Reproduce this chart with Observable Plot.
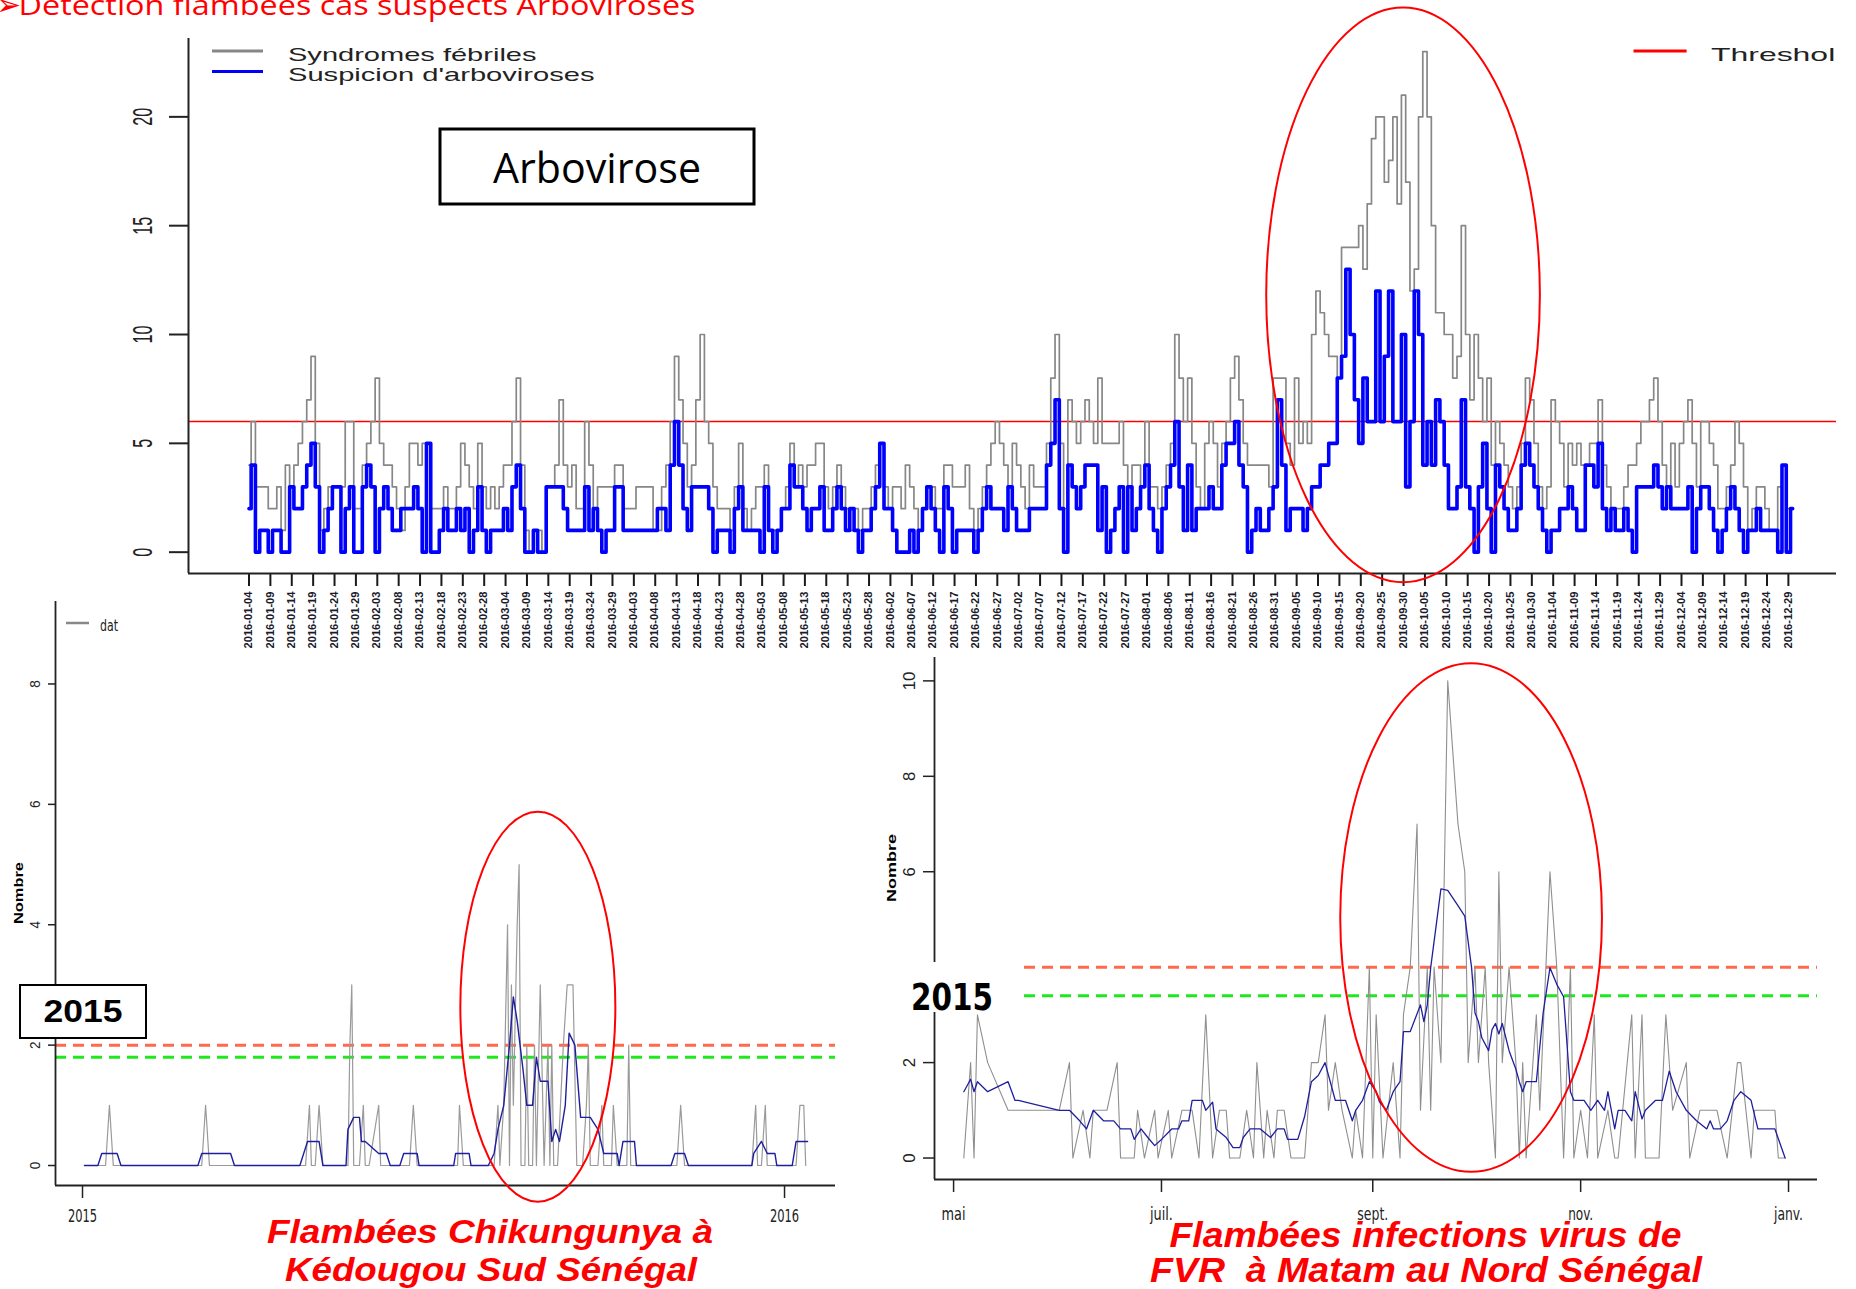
<!DOCTYPE html>
<html>
<head>
<meta charset="utf-8">
<script src="https://cdn.jsdelivr.net/npm/d3@7"></script>
<script src="https://cdn.jsdelivr.net/npm/@observablehq/plot@0.6"></script>
<style>
  html, body { margin: 0; padding: 0; background: #fff; }
  #root { position: relative; width: 1856px; height: 1289px; overflow: hidden; background: #fff;
          font-family: "Liberation Sans", Arial, sans-serif; }
  #root > svg { position: absolute; }
  #root text { white-space: pre; }
</style>
</head>
<body>
<div id="root"></div>
<script>
// ---------------- DATA ----------------
// Top chart: daily counts, 2016 (first day below)
const arboStart = "2016-01-04";
const febriles = [
  4,6,3,3,3,2,2,3,1,4, 3,4,5,6,7,9,5,1,2,3, 3,3,3,6,6,2,2,4,5,6, 8,5,4,4,3,2,1,3,5,5,
  4,5,5,2,2,2,3,2,2,3, 5,4,3,2,5,3,2,3,2,3, 4,4,6,8,4,1,0,1,1,0, 3,3,4,7,4,3,4,2,2,6,
  4,2,3,3,3,3,4,4,2,2, 2,3,3,3,3,1,1,3,4,6, 9,7,5,3,4,7,10,6,5,3, 2,2,2,1,3,5,2,1,2,3,
  3,4,1,1,1,2,3,5,3,4, 3,4,4,5,5,3,2,3,4,3, 2,1,2,1,2,2,3,4,5,3, 2,3,3,2,4,3,2,1,2,3,
  3,2,2,4,4,3,3,3,4,2, 1,2,3,4,5,6,5,4,3,5, 4,3,2,4,3,3,3,5,8,10, 5,2,7,6,5,6,7,6,5,8,
  5,5,5,5,6,4,3,4,4,3, 6,3,3,2,3,4,5,10,8,6, 8,5,3,2,5,6,5,3,5,6, 8,9,7,5,4,4,4,4,4,3,
  8,8,8,5,4,8,5,6,5,10, 12,11,10,9,9,8,14,14,14,14, 15,13,16,19,20,20,17,18,20,16,
  21,17,12,13,20,23,20,15,11,11, 10,10,8,9,15,10,7,10,8,6, 8,4,6,5,4,3,2,3,5,8,
  7,5,3,2,3,7,6,5,3,5, 4,5,4,4,5,5,7,4,3,2, 2,2,3,4,4,5,6,6,7,8, 6,4,3,5,3,5,6,7,5,3,
  6,6,5,4,2,2,3,4,6,5, 3,1,2,3,3,2,1,1,3,4, 2,2
];
const suspicion = [
  2,4,0,1,1,0,1,1,0,0, 3,2,2,3,4,5,3,0,1,2, 3,3,0,2,3,0,0,3,4,3, 0,2,3,2,1,1,2,2,2,3,
  2,0,5,0,0,1,2,1,1,2, 1,2,0,1,3,1,0,1,1,1, 2,1,3,4,2,0,0,1,0,0, 3,3,3,3,2,1,1,1,1,3,
  1,2,1,0,1,1,3,3,1,1, 1,1,1,1,1,1,2,2,1,4, 6,4,2,1,3,3,3,3,2,0, 1,1,1,0,2,3,1,1,1,1,
  0,3,1,0,1,2,2,4,3,3, 2,1,2,2,3,1,1,2,3,2, 1,2,1,0,1,1,2,3,5,2, 2,1,0,0,0,1,0,1,2,3,
  2,1,0,3,2,0,1,1,1,1, 0,1,2,3,2,2,2,1,3,2, 1,1,1,2,2,2,2,4,5,7, 2,0,4,3,2,3,4,4,4,1,
  3,0,1,2,3,0,3,1,2,3, 4,2,1,0,2,3,4,6,3,1, 4,1,2,2,2,3,2,2,4,5, 5,6,4,3,0,1,2,1,1,2,
  3,7,4,1,2,2,2,1,2,3, 3,4,4,5,5,8,9,13,10,7, 5,8,6,6,12,6,9,12,6,6,
  10,3,6,12,10,4,6,4,7,6, 4,2,2,3,7,3,2,0,3,5, 2,0,4,3,2,1,1,2,4,5,
  4,3,2,1,0,1,1,2,2,3, 2,1,1,4,4,3,5,2,1,2, 1,1,2,1,0,3,3,3,3,4, 3,2,3,2,2,2,2,3,0,2,
  3,3,2,1,0,1,2,3,2,1, 0,1,1,2,1,1,1,1,0,4, 0,2
];
const arboTickFirst = "2016-01-04";
const arboTickLast = "2016-12-29";
const arboTickStepDays = 5;
const arboYTicks = [0, 5, 10, 15, 20];
const arboThreshold = 6;
const arboLegend = ["Syndromes fébriles", "Suspicion d'arboviroses"];
const thresholdLabel = "Threshold";
const arboTitle = "Arbovirose";
const slideTitle = "Détection flambées cas suspects Arboviroses";

// Bottom-left: Chikungunya, Kédougou 2015
const chikDates = ["2015-01-02","2015-01-13","2015-01-15","2015-01-17","2015-03-04","2015-03-06","2015-03-08",
  "2015-04-27","2015-04-29","2015-04-30","2015-05-02","2015-05-04","2015-05-06","2015-05-19","2015-05-20",
  "2015-05-21","2015-05-22","2015-05-25","2015-05-27","2015-05-28","2015-05-30","2015-06-04","2015-06-05",
  "2015-06-20","2015-06-22","2015-06-24","2015-07-15","2015-07-16","2015-07-18","2015-08-03","2015-08-05",
  "2015-08-06","2015-08-08","2015-08-10","2015-08-11","2015-08-12","2015-08-13","2015-08-15","2015-08-16",
  "2015-08-17","2015-08-19","2015-08-20","2015-08-21","2015-08-23","2015-08-24","2015-08-25","2015-08-27",
  "2015-08-29","2015-08-31","2015-09-01","2015-09-02","2015-09-03","2015-09-05","2015-09-08","2015-09-10",
  "2015-09-13","2015-09-15","2015-09-18","2015-09-20","2015-09-21","2015-09-22","2015-09-26","2015-09-28",
  "2015-09-29","2015-10-03","2015-10-04","2015-10-06","2015-10-11","2015-10-12","2015-10-13","2015-11-06",
  "2015-11-08","2015-11-10","2015-12-15","2015-12-17","2015-12-18","2015-12-20","2015-12-22","2015-12-23",
  "2016-01-07","2016-01-09","2016-01-11","2016-01-12"];
const chikCounts = [0,0,1,0,0,1,0, 0,1,0,0,1,0,0,2, 3,0,0,1,0,0,1,0, 0,1,0,0,1,0,0,1,
  0,1,4,0,3,1,4,5, 0,0,2,0,0,2,0,3, 0,2,0,2,0,0,2,3, 3,0,0,1,2,0,0,1,
  0,0,1,0,0,2,0,0, 1,0,0,1,0,0,1,0, 0,1,1,0];
const chikAvgDates = ["2015-01-02","2015-01-09","2015-01-11","2015-01-19","2015-01-21","2015-03-02","2015-03-04",
  "2015-03-19","2015-03-21","2015-04-24","2015-04-26","2015-04-28","2015-05-04","2015-05-06","2015-05-18",
  "2015-05-19","2015-05-22","2015-05-25","2015-05-26","2015-05-28","2015-06-04","2015-06-08","2015-06-10",
  "2015-06-15","2015-06-17","2015-06-24","2015-06-25","2015-07-13","2015-07-14","2015-07-21","2015-07-22",
  "2015-07-31","2015-08-03","2015-08-05","2015-08-08","2015-08-11","2015-08-13","2015-08-15","2015-08-18",
  "2015-08-20","2015-08-23","2015-08-25","2015-08-27","2015-08-31","2015-09-02","2015-09-04","2015-09-06",
  "2015-09-09","2015-09-11","2015-09-14","2015-09-17","2015-09-22","2015-09-26","2015-09-29","2015-10-06",
  "2015-10-07","2015-10-09","2015-10-15","2015-10-16","2015-11-03","2015-11-05","2015-11-10","2015-11-12",
  "2015-12-15","2015-12-16","2015-12-20","2015-12-23","2015-12-27","2015-12-28","2016-01-05","2016-01-07",
  "2016-01-13"];
const chikAvg = [0,0,0.2,0.2,0,0,0.2, 0.2,0,0,0.2,0.4,0.4,0,0, 0.6,0.8,0.8,0.4,0.4,0.2,0.2,0,
  0,0.2,0.2,0,0,0.2,0.2,0, 0,0.2,0.6,1,2,2.8,2.4,1.6, 1,1,1.8,1.4,1.4,0.4,0.6,0.4,
  1,2.2,2,0.8,0.8,0.6,0.2,0.2, 0,0.4,0.4,0,0,0.2,0.2,0, 0,0.2,0.4,0.2,0.2,0,0,0.4, 0.4];
const chikThresholds = [2, 1.8];
const chikXTicks = ["2015-01-01", "2016-01-01"];
const chikYTicks = [0, 2, 4, 6, 8];
const chikTitle = ["Flambées Chikungunya à", "Kédougou Sud Sénégal"];

// Bottom-right: FVR, Matam 2015
const fvrDates = ["2015-05-04","2015-05-06","2015-05-07","2015-05-08","2015-05-11","2015-05-17","2015-06-01",
  "2015-06-04","2015-06-05","2015-06-08","2015-06-10","2015-06-11","2015-06-15","2015-06-18","2015-06-19",
  "2015-06-23","2015-06-24","2015-06-26","2015-06-29","2015-06-30","2015-07-03","2015-07-04","2015-07-07",
  "2015-07-10","2015-07-12","2015-07-14","2015-07-16","2015-07-18","2015-07-20","2015-07-21","2015-07-24",
  "2015-07-26","2015-07-28","2015-07-29","2015-07-31","2015-08-01","2015-08-03","2015-08-04","2015-08-06",
  "2015-08-08","2015-08-12","2015-08-14","2015-08-16","2015-08-18","2015-08-19","2015-08-21","2015-08-23",
  "2015-08-26","2015-08-27","2015-08-29","2015-08-31","2015-09-01","2015-09-02","2015-09-04","2015-09-07",
  "2015-09-09","2015-09-10","2015-09-12","2015-09-14","2015-09-15","2015-09-17","2015-09-18","2015-09-19",
  "2015-09-21","2015-09-23","2015-09-26","2015-09-28","2015-09-29","2015-10-01","2015-10-02","2015-10-04",
  "2015-10-05","2015-10-07","2015-10-08","2015-10-09","2015-10-11","2015-10-13","2015-10-14","2015-10-15",
  "2015-10-16","2015-10-19","2015-10-20","2015-10-23","2015-10-25","2015-10-27","2015-10-29","2015-10-30",
  "2015-11-01","2015-11-03","2015-11-05","2015-11-06","2015-11-09","2015-11-11","2015-11-12","2015-11-16",
  "2015-11-17","2015-11-19","2015-11-20","2015-11-24","2015-11-26","2015-11-28","2015-12-02","2015-12-03",
  "2015-12-06","2015-12-09","2015-12-11","2015-12-14","2015-12-17","2015-12-18","2015-12-21","2015-12-22",
  "2015-12-28","2015-12-29","2015-12-31"];
const fvrCounts = [0,2,0,3,2,1,1, 2,0,1,0,1,1,2,0, 0,1,0,1,0,1,0,1, 1,0,3,0,1,1,0,0,
  1,0,2,0,1,0,1,1, 0,0,2,2,3,1,2,1, 0,1,0,4,0,3,0,2, 0,3,4,7,1,4,1,4,
  2,10,7,6,2,4,2,4, 2,0,6,2,4,2,0,2, 0,3,1,6,4,0,4,0, 1,0,3,0,1,0,0,3,
  0,3,0,0,3,1,2,0, 1,1,1,0,2,2,0,1, 1,0,0];
const fvrAvgDates = ["2015-05-04","2015-05-06","2015-05-07","2015-05-08","2015-05-11","2015-05-17","2015-05-19",
  "2015-05-20","2015-06-01","2015-06-04","2015-06-07","2015-06-09","2015-06-11","2015-06-14","2015-06-17",
  "2015-06-19","2015-06-22","2015-06-23","2015-06-25","2015-06-27","2015-06-29","2015-07-01","2015-07-04",
  "2015-07-06","2015-07-07","2015-07-09","2015-07-10","2015-07-13","2015-07-14","2015-07-16","2015-07-17",
  "2015-07-20","2015-07-22","2015-07-24","2015-07-25","2015-07-27","2015-07-30","2015-08-02","2015-08-04",
  "2015-08-06","2015-08-07","2015-08-10","2015-08-12","2015-08-14","2015-08-16","2015-08-18","2015-08-21",
  "2015-08-24","2015-08-26","2015-08-27","2015-08-29","2015-08-31","2015-09-02","2015-09-03","2015-09-05",
  "2015-09-07","2015-09-09","2015-09-10","2015-09-12","2015-09-15","2015-09-16","2015-09-17","2015-09-18",
  "2015-09-21","2015-09-23","2015-09-26","2015-09-28","2015-09-30","2015-10-01","2015-10-02","2015-10-03",
  "2015-10-05","2015-10-06","2015-10-07","2015-10-08","2015-10-09","2015-10-11","2015-10-13","2015-10-14",
  "2015-10-15","2015-10-16","2015-10-19","2015-10-21","2015-10-23","2015-10-25","2015-10-27","2015-10-29",
  "2015-10-30","2015-11-02","2015-11-04","2015-11-06","2015-11-08","2015-11-09","2015-11-11","2015-11-12",
  "2015-11-14","2015-11-16","2015-11-17","2015-11-19","2015-11-20","2015-11-23","2015-11-25","2015-11-27",
  "2015-11-29","2015-12-02","2015-12-05","2015-12-08","2015-12-09","2015-12-10","2015-12-12","2015-12-14",
  "2015-12-16","2015-12-18","2015-12-21","2015-12-23","2015-12-28","2015-12-31"];
const fvrAvg = [1.39,1.65,1.39,1.6,1.39,1.6,1.21, 1.21,1.0,1.0,0.78,0.61,1.0,0.78,0.78,
  0.61,0.61,0.39,0.61,0.43,0.26,0.39,0.61, 0.61,0.78,0.78,1.21,1.21,1.0,1.17,0.61,
  0.43,0.22,0.22,0.43,0.61,0.61,0.43,0.61, 0.61,0.39,0.39,0.87,1.6,1.73,2.0,1.21,
  1.21,0.78,1.0,1.21,1.6,1.39,1.17,1.0, 1.39,1.6,2.65,2.65,3.21,2.86,3.21,3.99,
  5.64,5.61,5.29,5.07,3.99,3.04,2.86,2.52, 2.25,2.69,2.82,2.6,2.82,2.25,1.86,1.6,
  1.39,1.6,1.6,3.04,3.99,3.64,3.38,1.39, 1.21,1.21,1.0,1.21,1.0,1.39,0.61,1.0,
  1.0,0.78,1.39,0.82,1.0,1.21,1.21,1.82, 1.39,1.0,0.78,0.61,0.78,0.61,0.61,0.78,
  1.21,1.39,1.21,0.61,0.61,0];
const fvrThresholds = [4, 3.4];
const fvrXTicks = ["2015-05-01", "2015-07-01", "2015-09-01", "2015-11-01", "2016-01-01"];
const fvrXLabels = ["mai", "juil.", "sept.", "nov.", "janv."];
const fvrYTicks = [0, 2, 4, 6, 8, 10];
const fvrTitle = ["Flambées infections virus de", "FVR  à Matam au Nord Sénégal"];

const yearLabel = "2015";
const yLabel = "Nombre";
const chikLegend = "dat";

// Outbreak ellipses (centre date, centre value, half-width in days, half-height in counts)
const arboOutbreak = {center: "2016-09-30", value: 11.8, halfDays: 32, halfValue: 13.2};
const chikOutbreak = {center: "2015-08-26", value: 2.63, halfDays: 40.3, halfValue: 3.24};
const fvrOutbreak = {center: "2015-09-30", value: 5.03, halfDays: 38.4, halfValue: 5.33};

// ---------------- HELPERS ----------------
const DAY = 864e5;
const parse = d3.utcParse("%Y-%m-%d");
const addDays = (d, n) => new Date(+d + n * DAY);
const root = document.getElementById("root");
const SVGNS = "http://www.w3.org/2000/svg";
const NARROW = "'Liberation Sans Narrow','Arial Narrow','DejaVu Sans Condensed',sans-serif";

function place(el, left, top) {
  el.style.position = "absolute";
  el.style.left = left + "px";
  el.style.top = top + "px";
  el.style.maxWidth = "none";
  root.appendChild(el);
}
function ellipseMark(a, color, width) {
  return (index, scales) => {
    const c = parse(a.center);
    const cx = scales.x(c), cy = scales.y(a.value);
    const rx = Math.abs(scales.x(addDays(c, a.halfDays)) - cx);
    const ry = Math.abs(scales.y(a.value + a.halfValue) - cy);
    const e = document.createElementNS(SVGNS, "ellipse");
    e.setAttribute("cx", cx); e.setAttribute("cy", cy);
    e.setAttribute("rx", rx); e.setAttribute("ry", ry);
    e.setAttribute("fill", "none"); e.setAttribute("stroke", color);
    e.setAttribute("stroke-width", width);
    return e;
  };
}
function fitTexts(svg, label, size, lenPerChar, extra = {}) {
  d3.select(svg).selectAll(`g[aria-label="${label}"] text`).each(function () {
    const s = d3.select(this);
    s.attr("font-size", size);
    if (lenPerChar) {
      const n = this.textContent.length;
      s.attr("textLength", typeof lenPerChar === "function" ? lenPerChar(this.textContent) : n * lenPerChar)
       .attr("lengthAdjust", "spacingAndGlyphs");
    }
    for (const k in extra) s.attr(k, extra[k]);
  });
}

// ---------------- TOP CHART ----------------
const start = parse(arboStart);
const arboRows = febriles.map((v, i) => ({date: addDays(start, i), fever: v, arbo: suspicion[i]}));
const arboTicks = d3.utcDay.range(parse(arboTickFirst), addDays(parse(arboTickLast), 1), arboTickStepDays);
const topX = [addDays(start, -14.15), addDays(start, 371.25)];
const topY = [-0.98, 23.6];

const topPlot = Plot.plot({
  width: 1856, height: 660,
  marginLeft: 188, marginRight: 20, marginTop: 38, marginBottom: 87,
  style: {background: "transparent", fontFamily: "'Liberation Sans', Arial, sans-serif", overflow: "visible"},
  x: {type: "utc", domain: topX},
  y: {domain: topY},
  marks: [
    Plot.ruleY([arboThreshold], {stroke: "#ff0000", strokeWidth: 1.5}),
    Plot.lineY(arboRows, {x: "date", y: "fever", stroke: "#878787", strokeWidth: 1.7, curve: "step"}),
    Plot.lineY(arboRows, {x: "date", y: "arbo", stroke: "#0000ff", strokeWidth: 3.6, curve: "step"}),
    Plot.axisX({ticks: arboTicks, tickFormat: d3.utcFormat("%Y-%m-%d"), tickRotate: -90, tickSize: 13,
                tickPadding: 5, fontSize: 10, strokeWidth: 2, color: "#1a1a1a", label: null}),
    Plot.axisY({ticks: arboYTicks, tickSize: 19, tickPadding: 18, tickRotate: -90, fontSize: 20,
                strokeWidth: 2, color: "#222", label: null}),
    Plot.ruleX([topX[0]], {stroke: "#222", strokeWidth: 2}),
    Plot.ruleY([topY[0]], {stroke: "#222", strokeWidth: 2}),
    ellipseMark(arboOutbreak, "#ff0000", 2)
  ]
});
place(topPlot, 0, 0);
fitTexts(topPlot, "x-axis tick label", 10, 5.7, {"font-weight": "bold", "fill": "#1a1a2a"});
fitTexts(topPlot, "y-axis tick label", 28, 9);

// ---------------- CHIKUNGUNYA ----------------
const chikRows = chikDates.map((d, i) => ({date: parse(d), n: chikCounts[i]}));
const chikAvgRows = chikAvgDates.map((d, i) => ({date: parse(d), n: chikAvg[i]}));
const chikX = [addDays(parse("2015-01-01"), -14.04), addDays(parse("2015-01-01"), 391.5)];
const chikY = [-0.332, 9.37];
const chikPlot = Plot.plot({
  width: 860, height: 699,
  marginLeft: 55, marginRight: 25, marginTop: 11, marginBottom: 104,
  style: {background: "transparent", fontFamily: "'Liberation Sans', Arial, sans-serif", overflow: "visible"},
  x: {type: "utc", domain: chikX},
  y: {domain: chikY},
  marks: [
    Plot.ruleY([chikThresholds[0]], {stroke: "#ff6a4d", strokeWidth: 3, strokeDasharray: "11,7"}),
    Plot.ruleY([chikThresholds[1]], {stroke: "#1fe81f", strokeWidth: 3, strokeDasharray: "11,7"}),
    Plot.lineY(chikRows, {x: "date", y: "n", stroke: "#9a9a9a", strokeWidth: 1.2}),
    Plot.lineY(chikAvgRows, {x: "date", y: "n", stroke: "#1f1f9e", strokeWidth: 1.4}),
    Plot.axisX({ticks: chikXTicks.map(parse), tickFormat: d3.utcFormat("%Y"), tickSize: 13, tickPadding: 11,
                fontSize: 16, fontFamily: NARROW, strokeWidth: 1.5, color: "#222", label: null}),
    Plot.axisY({ticks: chikYTicks, tickSize: 7, tickPadding: 9, tickRotate: -90, fontSize: 14,
                strokeWidth: 1.5, color: "#222", label: null}),
    Plot.ruleX([chikX[0]], {stroke: "#222", strokeWidth: 1.8}),
    Plot.ruleY([chikY[0]], {stroke: "#222", strokeWidth: 1.8}),
    ellipseMark(chikOutbreak, "#ff0000", 2)
  ]
});
place(chikPlot, 0, 590);
fitTexts(chikPlot, "x-axis tick label", 17, 7.3);
fitTexts(chikPlot, "y-axis tick label", 15, 7.5);

// ---------------- FVR ----------------
const fvrRows = fvrDates.map((d, i) => ({date: parse(d), n: fvrCounts[i]}));
const fvrAvgRows = fvrAvgDates.map((d, i) => ({date: parse(d), n: fvrAvg[i]}));
const fvrX = [addDays(parse("2015-05-01"), -5.6), addDays(parse("2015-05-01"), 253.5)];
const fvrY = [-0.45, 10.49];
const monthLabel = new Map(fvrXTicks.map((d, i) => [+parse(d), fvrXLabels[i]]));
const fvrPlot = Plot.plot({
  width: 996, height: 649,
  marginLeft: 74, marginRight: 39, marginTop: 17, marginBottom: 110,
  style: {background: "transparent", fontFamily: "'Liberation Sans', Arial, sans-serif", overflow: "visible"},
  x: {type: "utc", domain: fvrX},
  y: {domain: fvrY},
  marks: [
    Plot.ruleY([fvrThresholds[0]], {stroke: "#ff6a4d", strokeWidth: 3, strokeDasharray: "11,7"}),
    Plot.ruleY([fvrThresholds[1]], {stroke: "#1fe81f", strokeWidth: 3, strokeDasharray: "11,7"}),
    Plot.lineY(fvrRows, {x: "date", y: "n", stroke: "#8f8f8f", strokeWidth: 1.1}),
    Plot.lineY(fvrAvgRows, {x: "date", y: "n", stroke: "#1f1f9e", strokeWidth: 1.3}),
    Plot.axisX({ticks: fvrXTicks.map(parse), tickFormat: d => monthLabel.get(+d), tickSize: 13, tickPadding: 15,
                fontSize: 16, fontFamily: NARROW, strokeWidth: 1.5, color: "#222", label: null}),
    Plot.axisY({ticks: fvrYTicks, tickSize: 11, tickPadding: 9, tickRotate: -90, fontSize: 17,
                strokeWidth: 1.5, color: "#222", label: null}),
    Plot.ruleX([fvrX[0]], {stroke: "#222", strokeWidth: 1.8}),
    Plot.ruleY([fvrY[0]], {stroke: "#222", strokeWidth: 1.8}),
    ellipseMark(fvrOutbreak, "#ff0000", 2)
  ]
});
place(fvrPlot, 860, 640);
const monthLen = {"mai": 24, "juil.": 23, "sept.": 31, "nov.": 25, "janv.": 29};
fitTexts(fvrPlot, "x-axis tick label", 17, t => monthLen[t] || 25);
fitTexts(fvrPlot, "y-axis tick label", 17, 9.3);

// ---------------- OVERLAY: titles, legends, boxes ----------------
const ov = d3.create("svg").attr("width", 1856).attr("height", 1289)
  .style("font-family", "'Liberation Sans', Arial, sans-serif").style("pointer-events", "none");
ov.append("defs").append("clipPath").attr("id", "cropRight")
  .append("rect").attr("x", 0).attr("y", 0).attr("width", 1836).attr("height", 1289);

function txt(g, s, o) {
  const t = g.append("text").text(s)
    .attr("x", o.x).attr("y", o.y)
    .attr("font-size", o.size).attr("fill", o.fill || "#000")
    .attr("xml:space", "preserve").style("white-space", "pre");
  if (o.weight) t.attr("font-weight", o.weight);
  if (o.style) t.attr("font-style", o.style);
  if (o.family) t.attr("font-family", o.family);
  if (o.anchor) t.attr("text-anchor", o.anchor);
  if (o.len) t.attr("textLength", o.len).attr("lengthAdjust", "spacingAndGlyphs");
  if (o.rotate) t.attr("transform", `rotate(${o.rotate},${o.x},${o.y})`);
  if (o.baseline) t.attr("dominant-baseline", o.baseline);
  return t;
}

// slide title (cropped by top edge, as in the reference)
txt(ov, "➢", {x: -4, y: 15, size: 30, fill: "#ff0000", family: "'DejaVu Sans',sans-serif"});
txt(ov, slideTitle, {x: 18.5, y: 15, size: 27, fill: "#ff0000", len: 677, family: "'Open Sans','Liberation Sans',sans-serif"});

// top legend
ov.append("line").attr("x1", 212).attr("x2", 263).attr("y1", 51).attr("y2", 51).attr("stroke", "#878787").attr("stroke-width", 3);
ov.append("line").attr("x1", 212).attr("x2", 263).attr("y1", 71.6).attr("y2", 71.6).attr("stroke", "#0000ff").attr("stroke-width", 3);
txt(ov, arboLegend[0], {x: 288, y: 60.5, size: 19, fill: "#222", len: 248.5});
txt(ov, arboLegend[1], {x: 288, y: 80.7, size: 19, fill: "#222", len: 306.5});
const thr = ov.append("g").attr("clip-path", "url(#cropRight)");
thr.append("line").attr("x1", 1633.5).attr("x2", 1686.6).attr("y1", 51).attr("y2", 51).attr("stroke", "#ff0000").attr("stroke-width", 3);
txt(thr, thresholdLabel, {x: 1711, y: 60.5, size: 19, fill: "#222", len: 142});

// Arbovirose box
ov.append("rect").attr("x", 440).attr("y", 129).attr("width", 314).attr("height", 75)
  .attr("fill", "#fff").attr("stroke", "#000").attr("stroke-width", 3);
txt(ov, arboTitle, {x: 597, y: 183, size: 42, anchor: "middle", len: 208, family: "'Open Sans','Liberation Sans',sans-serif"});

// Chikungunya panel annotations
ov.append("line").attr("x1", 66).attr("x2", 89).attr("y1", 623).attr("y2", 623).attr("stroke", "#888").attr("stroke-width", 2.5);
txt(ov, chikLegend, {x: 100, y: 631, size: 15, fill: "#222", len: 18, family: NARROW});
txt(ov, yLabel, {x: 18, y: 893, size: 13, weight: "bold", anchor: "middle", rotate: -90, baseline: "central", len: 62});
ov.append("rect").attr("x", 20).attr("y", 985).attr("width", 126).attr("height", 53)
  .attr("fill", "#fff").attr("stroke", "#000").attr("stroke-width", 2);
txt(ov, yearLabel, {x: 83, y: 1021.5, size: 32, weight: "bold", anchor: "middle", len: 79});
txt(ov, chikTitle[0], {x: 490, y: 1243, size: 34, weight: "bold", style: "italic", fill: "#ff0000", anchor: "middle", len: 446});
txt(ov, chikTitle[1], {x: 491, y: 1281, size: 34, weight: "bold", style: "italic", fill: "#ff0000", anchor: "middle", len: 412});

// FVR panel annotations
txt(ov, yLabel, {x: 891, y: 868, size: 13, weight: "bold", anchor: "middle", rotate: -90, baseline: "central", len: 68});
ov.append("rect").attr("x", 872).attr("y", 962).attr("width", 145).attr("height", 50).attr("fill", "#fff");
txt(ov, yearLabel, {x: 911, y: 1010, size: 37, weight: "bold", len: 82, family: NARROW});
txt(ov, fvrTitle[0], {x: 1425.5, y: 1246.5, size: 35, weight: "bold", style: "italic", fill: "#ff0000", anchor: "middle", len: 512});
txt(ov, fvrTitle[1], {x: 1426, y: 1282, size: 35, weight: "bold", style: "italic", fill: "#ff0000", anchor: "middle", len: 552});

place(ov.node(), 0, 0);
</script>
</body>
</html>
